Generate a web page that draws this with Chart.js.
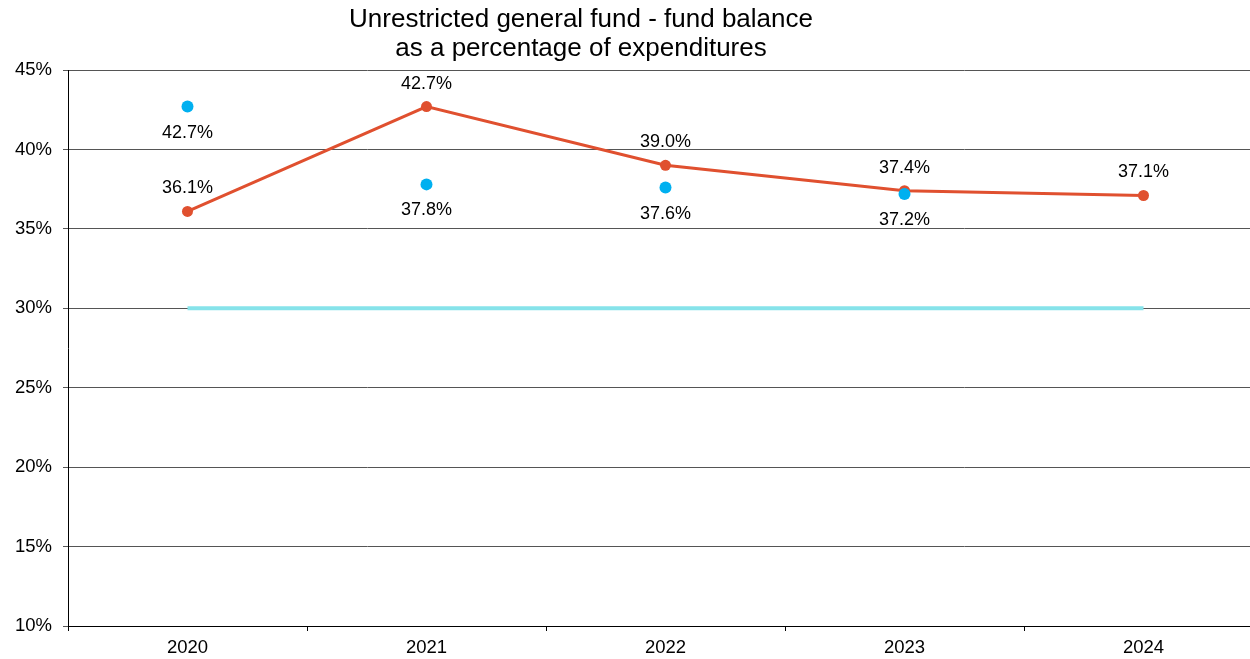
<!DOCTYPE html>
<html>
<head>
<meta charset="utf-8">
<script src="https://cdn.jsdelivr.net/npm/chart.js@4/dist/chart.umd.min.js"></script>
<style>
html,body{margin:0;padding:0;background:#fff;overflow:hidden;width:1250px;height:659px;}
canvas{display:block;}
</style>
</head>
<body>
<canvas id="c" width="1269" height="659"></canvas>
<script>
const categories = ['2020','2021','2022','2023','2024'];
const actualValues = [36.1, 42.7, 39.0, 37.4, 37.1];
const comparisonValues = [42.7, 37.8, 37.6, 37.2, null];
const targetValues = [30, 30, 30, 30, 30];
const titleLines = ['Unrestricted general fund - fund balance', 'as a percentage of expenditures'];
const yMin = 10, yMax = 45, yStep = 5;

const FONT = '"Liberation Sans", Arial, sans-serif';

const labelPlugin = {
  id: 'pointLabels',
  afterDatasetsDraw(chart) {
    const ctx = chart.ctx;
    ctx.save();
    ctx.font = '18px ' + FONT;
    ctx.fillStyle = '#000';
    ctx.textAlign = 'center';
    ctx.textBaseline = 'middle';
    chart.data.datasets.forEach((ds, i) => {
      if (!ds.labelPos) return;
      const meta = chart.getDatasetMeta(i);
      meta.data.forEach((pt, j) => {
        const v = ds.data[j];
        if (v === null || v === undefined) return;
        const dy = ds.labelPos === 'above' ? -23 : 26;
        ctx.fillText(v.toFixed(1) + '%', pt.x, pt.y + dy);
      });
    });
    ctx.restore();
  }
};

const titlePlugin = {
  id: 'customTitle',
  afterDraw(chart) {
    const ctx = chart.ctx;
    ctx.save();
    ctx.font = '26px ' + FONT;
    ctx.fillStyle = '#000';
    ctx.textAlign = 'center';
    ctx.textBaseline = 'middle';
    ctx.fillText(titleLines[0], 581, 20);
    ctx.fillText(titleLines[1], 581, 49);
    ctx.restore();
  }
};

new Chart(document.getElementById('c'), {
  type: 'line',
  data: {
    labels: categories,
    datasets: [
      {
        label: 'Comparison',
        data: comparisonValues,
        showLine: false,
        pointRadius: 6,
        pointHoverRadius: 6,
        pointBackgroundColor: '#00b0f0',
        pointBorderColor: '#00b0f0',
        pointBorderWidth: 0,
        borderColor: '#00b0f0',
        labelPos: 'below'
      },
      {
        label: 'Actual',
        data: actualValues,
        borderColor: '#e0502f',
        backgroundColor: '#e0502f',
        borderWidth: 3,
        pointRadius: 5.5,
        pointBackgroundColor: '#e0502f',
        pointBorderColor: '#e0502f',
        pointBorderWidth: 0,
        tension: 0,
        labelPos: 'above'
      },
      {
        label: 'Target',
        data: targetValues,
        borderColor: '#86e3ea',
        borderWidth: 4,
        pointRadius: 0,
        tension: 0
      }
    ]
  },
  options: {
    responsive: false,
    animation: false,
    events: [],
    layout: { padding: { top: 70, right: 0, left: 0, bottom: 0 } },
    plugins: {
      legend: { display: false },
      title: { display: false },
      tooltip: { enabled: false }
    },
    scales: {
      x: {
        offset: true,
        grid: { offset: true, drawOnChartArea: false, drawTicks: true, tickLength: 5, color: '#000' },
        border: { color: '#000', width: 1 },
        ticks: { color: '#000', font: { family: FONT, size: 18.5 }, padding: 6, maxRotation: 0 },
        afterFit(scale) { scale.height = 33; }
      },
      y: {
        min: yMin, max: yMax,
        grid: { color: '#555', lineWidth: 1, tickLength: 5, drawTicks: true },
        border: { color: '#000', width: 1 },
        ticks: { stepSize: yStep, color: '#000', font: { family: FONT, size: 18.5 }, padding: 11,
          callback: v => v + '%' },
        afterFit(scale) { scale.width = 68; }
      }
    }
  },
  plugins: [labelPlugin, titlePlugin]
});
</script>
</body>
</html>
